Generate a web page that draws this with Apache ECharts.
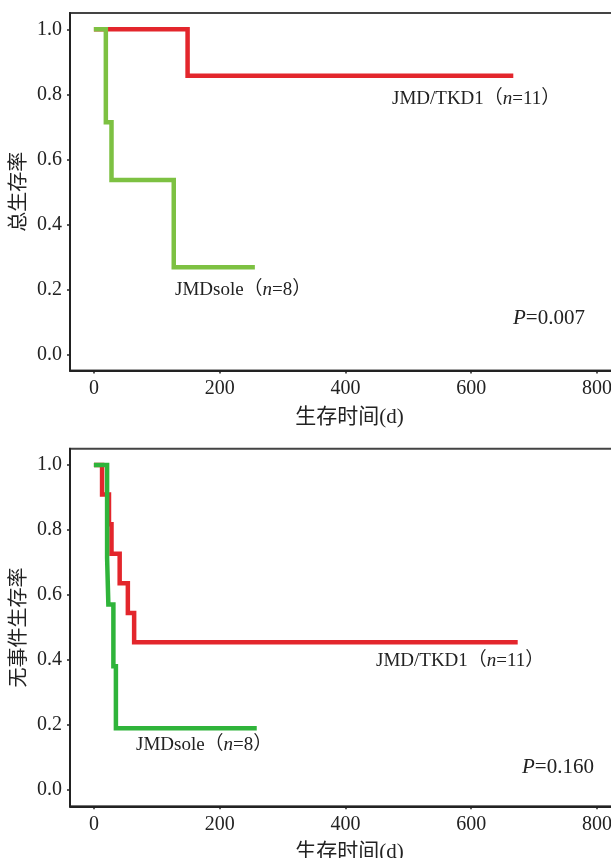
<!DOCTYPE html>
<html>
<head>
<meta charset="utf-8">
<style>html,body{margin:0;padding:0;background:#fff;overflow:hidden;}#c{width:611px;height:858px;}</style>
<script src="https://cdn.jsdelivr.net/npm/echarts@6/dist/echarts.min.js"></script>
</head>
<body>
<div id="c"></div>
<script>
// ---- data ----
const xTicks = [0, 200, 400, 600, 800];
const yTicks = [0, 0.2, 0.4, 0.6, 0.8, 1.0];

// Overall survival (top)
const osTkdTime = [0, 149, 667];
const osTkdSurv = [1, 0.857, 0.857];
const osTkdCensorTime = [26, 63, 100, 119, 187, 289, 370, 499];
const osTkdCensorSurv = [1, 1, 1, 1, 0.857, 0.857, 0.857, 0.857];
const osSoleTime = [0, 19, 28, 127, 256];
const osSoleSurv = [1, 0.714, 0.536, 0.268, 0.268];
const osSoleCensorTime = [54];
const osSoleCensorSurv = [0.536];

// Event-free survival (bottom)
const efsTkdTime = [0, 13, 24, 28, 41, 54, 64, 674];
const efsTkdSurv = [1, 0.909, 0.818, 0.727, 0.636, 0.545, 0.455, 0.455];
const efsTkdCensorTime = [101, 290, 376, 506];
const efsTkdCensorSurv = [0.455, 0.455, 0.455, 0.455];
const efsSoleTime = [0, 21, 23, 31, 35, 259];
const efsSoleSurv = [1, 0.714, 0.571, 0.381, 0.19, 0.19];

const labelTkd = 'JMD/TKD1';
const labelSole = 'JMDsole';
const nTkd = 11, nSole = 8;
const pOS = '0.007', pEFS = '0.160';
const yTitleOS = '总生存率';
const yTitleEFS = '无事件生存率';
const xTitle = '生存时间(d)';

// ---- styles ----
const RED = '#e3262c';
const GREEN_OS = '#7dc142';
const GREEN_EFS = '#2fb43a';
const SERIF = '"Liberation Serif", "Noto Sans CJK SC", serif';

function pairs(t, s) { return t.map((v, i) => [v, s[i]]); }

function xAxisCfg(gi) {
  return {
    gridIndex: gi, type: 'value', min: -38, max: 851,
    name: xTitle, nameLocation: 'middle', nameGap: 36, nameMoveOverlap: false,
    nameTextStyle: { fontFamily: SERIF, fontSize: 21, color: '#222' },
    axisLine: { show: true, onZero: false, lineStyle: { color: '#222', width: 2 } },
    axisTick: { show: true, length: 3, customValues: xTicks, lineStyle: { color: '#222', width: 1.5 } },
    axisLabel: { customValues: xTicks, margin: 8, fontFamily: SERIF, fontSize: 20, color: '#222' },
    splitLine: { show: false }
  };
}
function yAxisCfg(gi, title) {
  return {
    gridIndex: gi, type: 'value', min: -0.05, max: 1.05,
    name: title, nameLocation: 'middle', nameGap: 40, nameRotate: 90, nameMoveOverlap: false,
    nameTextStyle: { fontFamily: SERIF, fontSize: 20, color: '#222' },
    axisLine: { show: true, onZero: false, lineStyle: { color: '#222', width: 2 } },
    axisTick: { show: true, length: 3, customValues: yTicks, lineStyle: { color: '#222', width: 1.5 } },
    axisLabel: { customValues: yTicks, margin: 8, fontFamily: SERIF, fontSize: 20, color: '#222',
      formatter: v => v.toFixed(1) },
    splitLine: { show: false }
  };
}
function kmLine(gi, t, s, color) {
  return {
    type: 'line', xAxisIndex: gi, yAxisIndex: gi, step: 'end', data: pairs(t, s),
    showSymbol: false, symbol: 'none', silent: true,
    lineStyle: { color: color, width: 4.5, cap: 'butt', join: 'miter' }
  };
}
function censor(gi, t, s, color) {
  return {
    type: 'scatter', xAxisIndex: gi, yAxisIndex: gi, data: pairs(t, s), silent: true,
    symbol: 'path://M0,0L0,10', symbolSize: [2, 8],
    itemStyle: { color: 'none', borderColor: color, borderWidth: 1.5 }
  };
}

const chart = echarts.init(document.getElementById('c'), null, { renderer: 'canvas' });

function labelText(name, n) {
  return '{a|' + name + '（}{i|n}{a|=' + n + '）}';
}
const rich = {
  a: { fontFamily: SERIF, fontSize: 19, fill: '#222' },
  i: { fontFamily: SERIF, fontSize: 19, fontStyle: 'italic', fill: '#222' }
};
const richP = {
  a: { fontFamily: SERIF, fontSize: 21, fill: '#222' },
  i: { fontFamily: SERIF, fontSize: 21, fontStyle: 'italic', fill: '#222' }
};
function txt(x, y, text, r) {
  return { type: 'text', x: x, y: y, silent: true,
    style: { text: text, rich: r, align: 'left', verticalAlign: 'middle' } };
}

chart.setOption({
  animation: false,
  backgroundColor: '#fff',
  grid: [
    { left: 70, top: 13, width: 559, height: 357.5, outerBoundsMode: 'none', containLabel: false,
      show: true, borderColor: '#444', borderWidth: 2, backgroundColor: 'transparent' },
    { left: 70, top: 448.75, width: 559, height: 357.5, outerBoundsMode: 'none', containLabel: false,
      show: true, borderColor: '#444', borderWidth: 2, backgroundColor: 'transparent' }
  ],
  xAxis: [xAxisCfg(0), xAxisCfg(1)],
  yAxis: [yAxisCfg(0, yTitleOS), yAxisCfg(1, yTitleEFS)],
  series: [
    kmLine(0, osTkdTime, osTkdSurv, RED),
    kmLine(0, osSoleTime, osSoleSurv, GREEN_OS),
    censor(0, osTkdCensorTime, osTkdCensorSurv, RED),
    censor(0, osSoleCensorTime, osSoleCensorSurv, GREEN_OS),
    kmLine(1, efsTkdTime, efsTkdSurv, RED),
    kmLine(1, efsSoleTime, efsSoleSurv, GREEN_EFS),
    censor(1, efsTkdCensorTime, efsTkdCensorSurv, RED)
  ],
  graphic: [
    txt(392, 99, labelText(labelTkd, nTkd), rich),
    txt(175, 290, labelText(labelSole, nSole), rich),
    txt(513, 318, '{i|P}{a|=' + pOS + '}', richP),
    txt(376, 661, labelText(labelTkd, nTkd), rich),
    txt(136, 745, labelText(labelSole, nSole), rich),
    txt(522, 767, '{i|P}{a|=' + pEFS + '}', richP)
  ]
});
</script>
</body>
</html>
